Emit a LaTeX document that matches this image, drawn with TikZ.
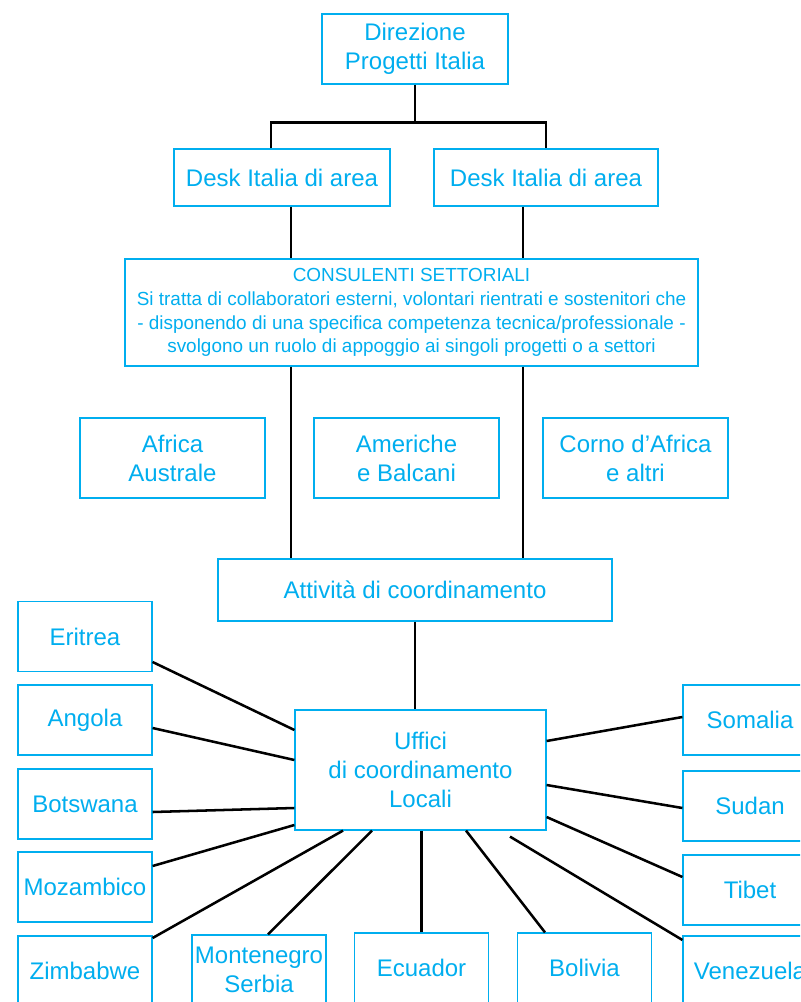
\documentclass[tikz,border=0pt]{standalone}
\usepackage{fontspec}
\setmainfont{Liberation Sans}
\usetikzlibrary{calc}
\definecolor{boxcyan}{RGB}{0,174,239}

\begin{document}
\begin{tikzpicture}[x=0.75pt,y=-0.75pt,-,
  unit box/.style={draw=boxcyan,line width=0.9pt,text=boxcyan,align=center,inner sep=0pt,font=\fontsize{18}{21.75}\selectfont},
  area box/.style={unit box,minimum width=138.75pt,minimum height=60pt},
  country box/.style={unit box,minimum width=100.5pt,minimum height=52.5pt}]
\tikzstyle{link} = [draw,line width=1.9pt,black]

\useasboundingbox (0,0) rectangle (800,1002);
\clip (0,0) rectangle (800,1002);
\fill[white] (0,0) rectangle (800,1002);

% top of the tree
\node[unit box,minimum width=139.5pt,minimum height=52.5pt] (direzione) at (415,49) {Direzione\\Progetti Italia};
\node[unit box,minimum width=162pt,minimum height=42.75pt] (desk1) at (282,177.5) {Desk Italia di area};
\node[unit box,minimum width=168pt,minimum height=42.75pt] (desk2) at (546,177.5) {Desk Italia di area};

\draw[link] (direzione.south) -- ++(0,39);
\draw[link] ($(desk1.north)+(-11,0)$) -- ++(0,-26) -| (desk2.north);

\node[unit box,minimum width=429.75pt,minimum height=80.25pt,font=\fontsize{14.2}{17.8}\selectfont] (consulenti) at (411.5,312.5) {CONSULENTI SETTORIALI\\Si tratta di collaboratori esterni, volontari rientrati e sostenitori che\\- disponendo di una specifica competenza tecnica/professionale -\\svolgono un ruolo di appoggio ai singoli progetti o a settori};

\draw[link] ($(desk1.south)+(9,0)$) -- ($(consulenti.north)+(-120.5,0)$);
\draw[link] ($(desk2.south)+(-23,0)$) -- ($(consulenti.north)+(111.5,0)$);

% desks by area
\node[area box] (africa) at (172.5,458) {Africa\\Australe};
\node[area box] (americhe) at (406.5,458) {Americhe\\e Balcani};
\node[area box] (corno) at (635.5,458) {Corno d’Africa\\e altri};

\node[unit box,minimum width=295.5pt,minimum height=46.5pt] (attivita) at (415,590) {Attività di coordinamento};

\draw[link] ($(consulenti.south)+(-120.5,0)$) -- ($(attivita.north)+(-124,0)$);
\draw[link] ($(consulenti.south)+(111.5,0)$) -- ($(attivita.north)+(108,0)$);

\node[unit box,minimum width=188.25pt,minimum height=90pt] (uffici) at (420.5,770) {Uffici\\di coordinamento\\Locali};
\draw[link] (attivita.south) -- ($(uffici.north)+(-5.5,0)$);

% local offices, left column
\node[country box] (eritrea) at (85,636.5) {Eritrea};
\node[country box] (angola) at (85,720) {Angola};
\node[country box] (botswana) at (85,804) {Botswana};
\node[country box] (mozambico) at (85,887) {Mozambico};
\node[country box] (zimbabwe) at (85,971) {Zimbabwe};

% bottom row
\node[country box] (montenegro) at (259,970) {Montenegro\\Serbia};
\node[country box] (ecuador) at (421.5,968) {Ecuador};
\node[country box] (bolivia) at (584.5,968) {Bolivia};

% right column
\node[country box] (somalia) at (750,720) {Somalia};
\node[country box] (sudan) at (750,806) {Sudan};
\node[country box] (tibet) at (750,890) {Tibet};
\node[country box] (venezuela) at (750,971) {Venezuela};

\draw[link] ($(eritrea.east)+(0,25.5)$) -- ($(uffici.west)+(0,-40)$);
\draw[link] ($(angola.east)+(0,8)$) -- ($(uffici.west)+(0,-10)$);
\draw[link] ($(botswana.east)+(0,8)$) -- ($(uffici.west)+(0,38)$);
\draw[link] ($(mozambico.east)+(0,-21)$) -- ($(uffici.west)+(0,55)$);
\draw[link] ($(zimbabwe.east)+(0,-33)$) -- ($(uffici.south)+(-77.5,0)$);
\draw[link] ($(montenegro.north)+(9,0)$) -- ($(uffici.south)+(-48.5,0)$);
\draw[link] (ecuador.north) -- (ecuador.north |- uffici.south);
\draw[link] ($(bolivia.north)+(-39.5,0)$) -- ($(uffici.south)+(45.5,0)$);
\draw[link] ($(venezuela.west)+(0,-31)$) -- ($(uffici.south)+(89.5,6)$);
\draw[link] ($(tibet.west)+(0,-13)$) -- ($(uffici.east)+(0,47)$);
\draw[link] ($(sudan.west)+(0,2)$) -- ($(uffici.east)+(0,15)$);
\draw[link] ($(somalia.west)+(0,-3)$) -- ($(uffici.east)+(0,-29)$);

\end{tikzpicture}
\end{document}
